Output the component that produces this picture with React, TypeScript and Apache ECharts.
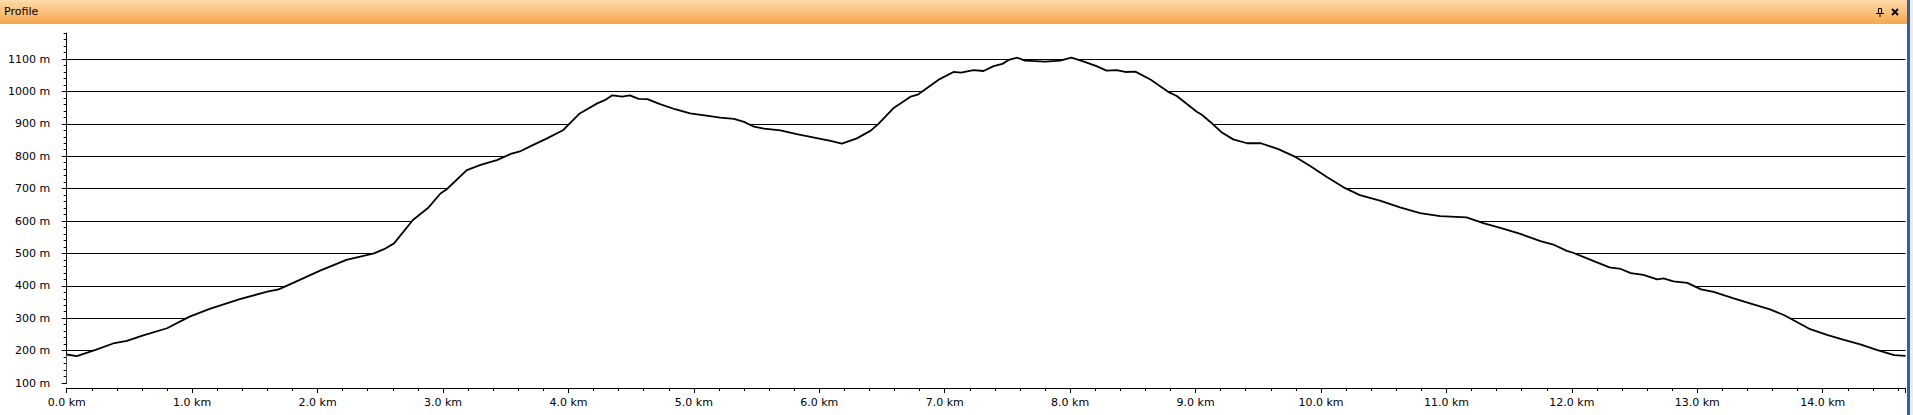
import React, { useEffect, useRef } from "react";
import * as echarts from "echarts";

const distKm = [
  0.0, 0.08, 0.23, 0.37, 0.48, 0.61, 0.8, 0.98, 1.14, 1.38, 1.6, 1.69, 1.81, 2.02, 2.23, 2.45, 2.53, 2.61,
  2.76, 2.88, 2.98, 3.03, 3.19, 3.3, 3.43, 3.54, 3.62, 3.72, 3.83, 3.96, 4.09, 4.23, 4.29, 4.35, 4.43, 4.49,
  4.56, 4.63, 4.73, 4.85, 4.97, 5.1, 5.21, 5.32, 5.4, 5.48, 5.56, 5.69, 5.82, 5.95, 6.09, 6.18, 6.3, 6.41,
  6.47, 6.59, 6.73, 6.79, 6.96, 7.07, 7.13, 7.23, 7.31, 7.39, 7.46, 7.51, 7.58, 7.64, 7.8, 7.92, 8.01, 8.11,
  8.21, 8.29, 8.37, 8.44, 8.52, 8.64, 8.79, 8.85, 9.01, 9.05, 9.12, 9.21, 9.3, 9.41, 9.52, 9.66, 9.8, 9.92,
  10.05, 10.18, 10.31, 10.47, 10.63, 10.79, 10.95, 11.16, 11.3, 11.43, 11.59, 11.75, 11.86, 11.96, 12.01,
  12.19, 12.3, 12.39, 12.47, 12.57, 12.68, 12.73, 12.81, 12.92, 13.03, 13.13, 13.29, 13.42, 13.58, 13.69,
  13.79, 13.9, 14.04, 14.17, 14.3, 14.43, 14.57, 14.66,
];
const elevM = [
  188, 183, 202, 222, 230, 247, 269, 305, 329, 359, 382, 389, 410, 447, 480, 500, 513, 531,
  603, 640, 685, 698, 757, 773, 788, 807, 816, 835, 855, 881, 932, 963, 973, 988, 984, 988,
  977, 976, 961, 945, 932, 925, 919, 915, 906, 891, 885, 880, 868, 858, 847, 839, 855, 879,
  899, 948, 984, 991, 1038, 1060, 1058, 1066, 1063, 1078, 1085, 1097, 1104, 1095, 1092, 1095, 1104, 1092,
  1078, 1064, 1066, 1060, 1061, 1037, 997, 986, 937, 928, 905, 873, 852, 840, 840, 822, 797, 768,
  735, 704, 680, 663, 642, 624, 615, 611, 593, 579, 560, 538, 526, 508, 502,
  474, 457, 452, 439, 434, 420, 423, 414, 409, 389, 381, 361, 346, 327, 310,
  289, 266, 248, 233, 219, 202, 186, 184,
];

const yTickValues = [100, 200, 300, 400, 500, 600, 700, 800, 900, 1000, 1100];
const xTickValues = [0, 1, 2, 3, 4, 5, 6, 7, 8, 9, 10, 11, 12, 13, 14];
const titleText = "Profile";

const FONT = "DejaVu Sans";

export default function App() {
  const ref = useRef<HTMLDivElement>(null);

  useEffect(() => {
    document.body.style.margin = "0";
    if (!ref.current) return;
    const chart = echarts.init(ref.current, undefined, { renderer: "svg" });
    const data = distKm.map((d, i) => [d, elevM[i]]);
    const black = "#000000";
    const labelStyle = { color: black, fontFamily: FONT, fontSize: 11 };

    chart.setOption({
      animation: false,
      backgroundColor: "#ffffff",
      title: {
        text: titleText,
        left: 4,
        top: 6,
        padding: 0,
        textStyle: { fontFamily: FONT, fontSize: 11, fontWeight: "normal", color: black },
        z: 10,
      },
      graphic: [
        {
          type: "rect",
          silent: true,
          z: -10,
          shape: { x: 0, y: 0, width: 1907, height: 24 },
          style: {
            fill: new echarts.graphic.LinearGradient(0, 0, 0, 1, [
              { offset: 0, color: "#FDDCA8" },
              { offset: 1, color: "#F7A54E" },
            ]),
          },
        },
        {
          type: "rect",
          silent: true,
          shape: { x: 1907, y: 0, width: 3, height: 415 },
          style: { fill: "#2E5FAE" },
        },
        {
          type: "rect",
          silent: true,
          shape: { x: 1910, y: 0, width: 3, height: 415 },
          style: { fill: "#F2EDD8" },
        },
        // pin icon
        {
          type: "group",
          silent: true,
          children: [
            { type: "rect", shape: { x: 1878.5, y: 8.5, width: 3, height: 5 }, style: { fill: "none", stroke: black, lineWidth: 1 } },
            { type: "line", shape: { x1: 1876, y1: 13.5, x2: 1884, y2: 13.5 }, style: { stroke: black, lineWidth: 1 } },
            { type: "line", shape: { x1: 1880, y1: 13.5, x2: 1880, y2: 17 }, style: { stroke: black, lineWidth: 1 } },
          ],
        },
        // close icon
        {
          type: "group",
          silent: true,
          children: [
            { type: "line", shape: { x1: 1892, y1: 9, x2: 1898, y2: 15 }, style: { stroke: black, lineWidth: 1.8 } },
            { type: "line", shape: { x1: 1898, y1: 9, x2: 1892, y2: 15 }, style: { stroke: black, lineWidth: 1.8 } },
          ],
        },
      ],
      grid: { left: 66.7, right: 7.5, top: 33.1, bottom: 32, containLabel: false },
      xAxis: [
        {
          type: "value",
          min: 0,
          max: 14.66,
          interval: 1,
          offset: 5,
          position: "bottom",
          axisLine: { show: true, lineStyle: { color: black, width: 1 } },
          axisTick: { show: true, length: 5, lineStyle: { color: black, width: 1 }, customValues: xTickValues.concat([14.66]) },
          axisLabel: {
            ...labelStyle,
            margin: 9,
            customValues: xTickValues,
            formatter: (v: number) => v.toFixed(1) + " km",
          },
          splitLine: { show: false },
        },
        {
          type: "value",
          min: 0,
          max: 14.66,
          interval: 0.2,
          offset: 5,
          position: "bottom",
          axisLine: { show: false },
          axisTick: { show: true, length: 3, lineStyle: { color: black, width: 1 } },
          axisLabel: { show: false },
          splitLine: { show: false },
        },
      ],
      yAxis: [
        {
          type: "value",
          min: 100,
          max: 1180,
          interval: 100,
          offset: 4.5,
          position: "left",
          axisLine: { show: true, lineStyle: { color: black, width: 1 } },
          axisTick: { show: true, length: 5, lineStyle: { color: black, width: 1 }, customValues: yTickValues },
          axisLabel: {
            ...labelStyle,
            margin: 12,
            customValues: yTickValues,
            formatter: (v: number) => (v % 100 === 0 ? v + " m" : ""),
          },
          splitLine: { show: true, showMinLine: false, showMaxLine: true, lineStyle: { color: black, width: 1 } },
        },
        {
          type: "value",
          min: 100,
          max: 1180,
          interval: 20,
          offset: 4.5,
          position: "left",
          axisLine: { show: false },
          axisTick: { show: true, length: 3, lineStyle: { color: black, width: 1 } },
          axisLabel: { show: false },
          splitLine: { show: false },
        },
      ],
      series: [
        {
          type: "line",
          xAxisIndex: 0,
          yAxisIndex: 0,
          data,
          showSymbol: false,
          smooth: false,
          lineStyle: { color: black, width: 1.8 },
          areaStyle: { color: "#ffffff", opacity: 1, origin: "start" },
          z: 3,
        },
      ],
    });

    return () => chart.dispose();
  }, []);

  return <div ref={ref} style={{ width: 1913, height: 415 }} />;
}
